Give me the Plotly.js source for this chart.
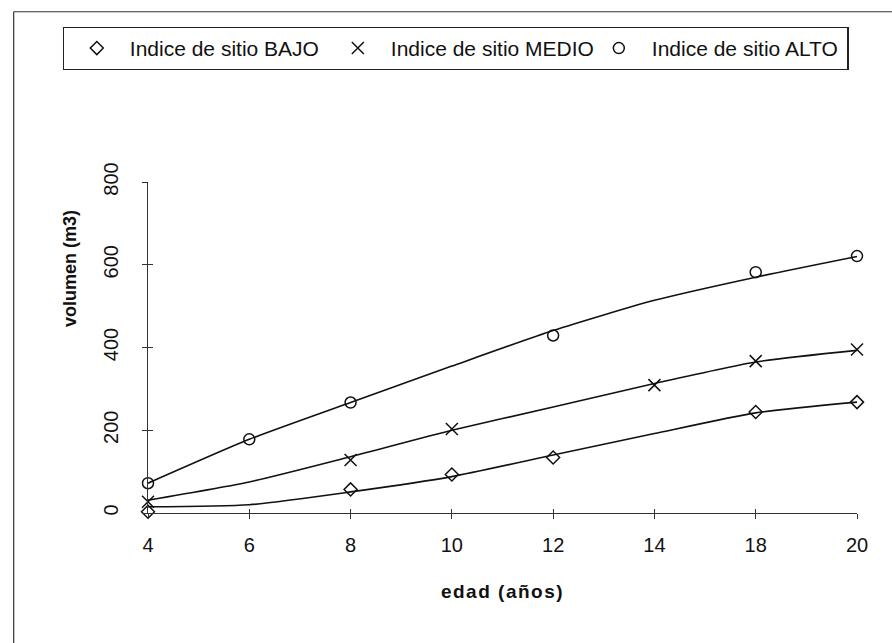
<!DOCTYPE html>
<html><head><meta charset="utf-8">
<script src="https://cdn.plot.ly/plotly-3.0.1.min.js"></script>
<style>html,body{margin:0;padding:0;background:#fff}#chart{width:892px;height:643px}</style>
</head><body><div id="chart"></div>
<script>
// ---- data ----
const ages = ['4', '6', '8', '10', '12', '14', '18', '20'];
// observed points (markers)
const bajoObs  = [3, null, 57, 93, 134, null, 244, 268];
const medioObs = [27, null, 128, 203, null, 309, 367, 395];
const altoObs  = [72, 178, 267, null, 429, null, 582, 621];
// fitted curves (lines)
const bajoFit  = [15, 20, 51, 88, 140, 192, 242, 268];
const medioFit = [31, 75, 136, 200, 256, 313, 365, 393];
const altoFit  = [72, 178, 267, 355, 441, 514, 570, 620];
const seriesNames = ['Indice de sitio BAJO', 'Indice de sitio MEDIO', 'Indice de sitio ALTO'];
const yTickVals = [0, 200, 400, 600, 800];
const xTitle = 'edad (años)';
const yTitle = 'volumen (m3)';

// ---- layout helpers ----
const W = 892, H = 643, L = 147.5, R = 34.5, T = 181.5, B = 130;
const pw = W - L - R, ph = H - T - B;
const px2x = p => (p - L) / pw;
const py2y = p => (H - B - p) / ph;
const FONT = 'Liberation Sans, Arial, sans-serif';
const INK = '#111';

function fitTrace(vals) {
  return {x: ages, y: vals, xaxis: 'x2', yaxis: 'y2', mode: 'lines',
    line: {color: INK, width: 1.6, shape: 'spline', smoothing: 0.6},
    showlegend: false, hoverinfo: 'skip'};
}
function obsTrace(vals, name, symbol, size) {
  return {x: ages, y: vals, name: name, mode: 'markers', cliponaxis: false,
    marker: {symbol: symbol, size: size, color: INK, line: {color: INK, width: 1.5}}};
}

const data = [
  fitTrace(bajoFit), fitTrace(medioFit), fitTrace(altoFit),
  obsTrace(bajoObs, seriesNames[0], 'diamond-open', 10),
  obsTrace(medioObs, seriesNames[1], 'x-thin-open', 12),
  obsTrace(altoObs, seriesNames[2], 'circle-open', 11)
];

const axBase = {type: 'category', categoryarray: ages, categoryorder: 'array',
  range: [0, 7], fixedrange: true};

const layout = {
  width: W, height: H,
  margin: {l: L, r: R, t: T, b: B, pad: 0},
  paper_bgcolor: '#fff', plot_bgcolor: '#fff',
  font: {family: FONT, size: 20, color: INK},
  showlegend: true,
  xaxis: Object.assign({}, axBase, {
    showgrid: false, zeroline: false, showline: true, linecolor: '#333', linewidth: 1,
    ticks: 'outside', ticklen: 5, tickcolor: '#333', tickwidth: 1,
    ticklabelstandoff: 9,
    tickfont: {family: FONT, size: 20, color: INK},
    title: {text: xTitle, font: {family: FONT, size: 19, color: INK, weight: 'bold'}, standoff: 29},
    automargin: false
  }),
  xaxis2: Object.assign({}, axBase, {
    overlaying: 'x', anchor: 'y2', side: 'bottom',
    showgrid: false, zeroline: false, showline: false,
    ticks: 'inside', ticklen: 4, tickcolor: '#333', tickwidth: 1,
    showticklabels: false
  }),
  yaxis: {
    range: [0, 800], tickvals: yTickVals, fixedrange: true,
    showgrid: false, zeroline: false, showline: true, linecolor: '#333', linewidth: 1,
    ticks: 'outside', ticklen: 5, tickcolor: '#333', tickwidth: 1,
    tickangle: -90, ticklabelstandoff: 16,
    tickfont: {family: FONT, size: 20, color: INK},
    automargin: false
  },
  yaxis2: {
    range: [0, 800], tickvals: yTickVals, overlaying: 'y', anchor: 'x2', side: 'left',
    showgrid: false, zeroline: false, showline: false,
    ticks: 'inside', ticklen: 5, tickcolor: '#333', tickwidth: 1,
    showticklabels: false, fixedrange: true
  },
  legend: {
    orientation: 'h', x: px2x(62), xanchor: 'left', y: py2y(26), yanchor: 'top',
    bordercolor: '#222', borderwidth: 1.2, bgcolor: '#fff',
    font: {family: FONT, size: 21, color: INK},
    itemwidth: 56, entrywidth: 190, entrywidthmode: 'pixels',
    traceorder: 'normal', itemclick: false, itemdoubleclick: false
  },
  annotations: [{
    text: yTitle, xref: 'paper', yref: 'paper', x: px2x(70), y: py2y(268),
    xanchor: 'center', yanchor: 'middle', textangle: -90, showarrow: false,
    font: {family: FONT, size: 18, color: INK, weight: 'bold'}
  }],
  shapes: [
    {type: 'line', xref: 'paper', yref: 'paper', x0: px2x(13), x1: px2x(13), y0: py2y(11), y1: py2y(660),
     line: {color: '#333', width: 1.2}},
    {type: 'line', xref: 'paper', yref: 'paper', x0: px2x(13), x1: px2x(910), y0: py2y(11), y1: py2y(11),
     line: {color: '#333', width: 1.2}}
  ]
};

Plotly.newPlot('chart', data, layout, {staticPlot: true, displayModeBar: false}).then(function (gd) {
  // the reference's x-axis title is slightly letter-spaced
  var t = gd.querySelector('.xtitle');
  if (t) t.style.letterSpacing = '1.5px';
});
</script>
</body></html>
